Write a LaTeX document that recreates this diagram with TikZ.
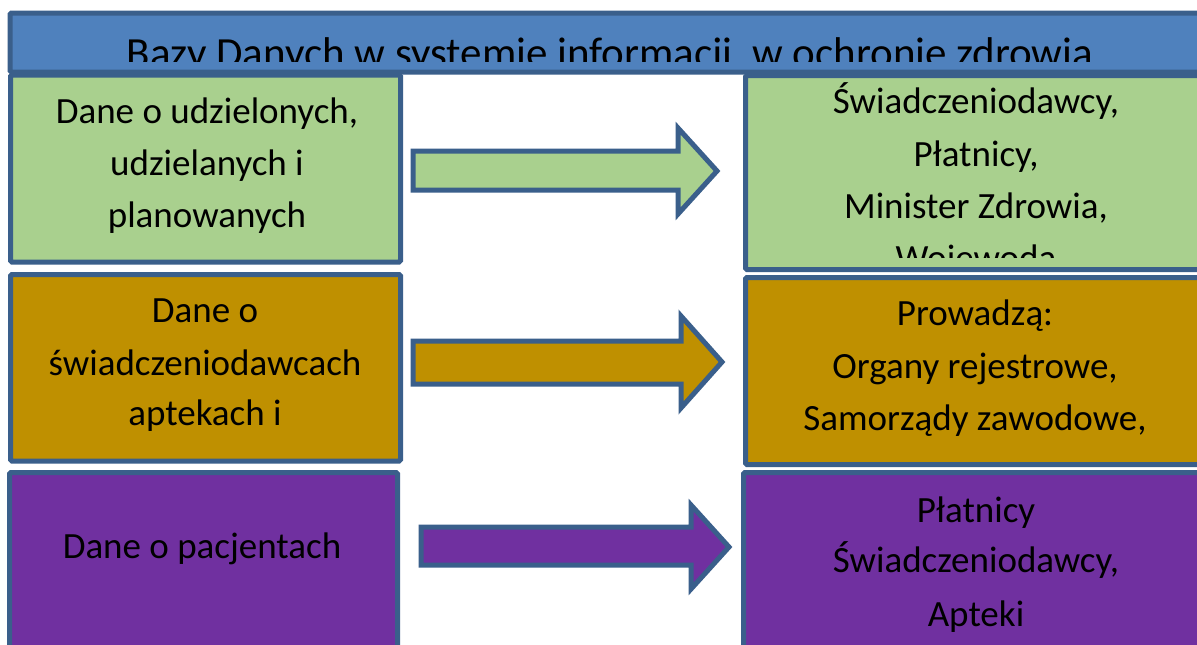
\documentclass[tikz,border=0pt]{standalone}
\usepackage{fontspec}
\setmainfont{Carlito}
\definecolor{bordc}{HTML}{3A5F8B}
\definecolor{titlec}{HTML}{4F81BD}
\definecolor{greenc}{HTML}{A9D08E}
\definecolor{goldc}{HTML}{BF9000}
\definecolor{purplec}{HTML}{7030A0}
\begin{document}
\begin{tikzpicture}[x=1pt,y=-1pt,
  panel/.style={draw=bordc, line width=5pt, rounded corners=1.5pt},
  blockarrow/.style={draw=bordc, line width=5pt, line join=miter},
  txt/.style={font=\fontsize{37}{44}\selectfont, anchor=base, inner sep=0pt, text=black},
  titletxt/.style={font=\fontsize{43}{50}\selectfont, anchor=base, inner sep=0pt, text=black}]
\useasboundingbox (0,0) rectangle (1197,645);
\fill[white] (0,0) rectangle (1197,645);
\clip (0,0) rectangle (1197,645);

% title bar
\draw[panel, fill=titlec] (10,13) rectangle (1215,72);
\begin{scope}
  \clip (0,0) rectangle (1197,61.5);
  \node[titletxt] (title) at (610,67) {Bazy Danych w systemie informacji\ \ w ochronie zdrowia};
\end{scope}

% left boxes
\draw[panel, fill=greenc] (10.5,75) rectangle (400.5,262);
\draw[panel, fill=goldc] (10.5,274.5) rectangle (400.5,461);
\draw[panel, fill=purplec] (9.5,472.5) rectangle (397.5,665);

% right boxes
\draw[panel, fill=greenc] (745.5,75.5) rectangle (1215,269.5);
\draw[panel, fill=goldc] (745.5,277.5) rectangle (1215,464.5);
\draw[panel, fill=purplec] (743.5,472.5) rectangle (1215,665);

% block arrows
\draw[blockarrow, fill=greenc] (413,151) -- (678,151) -- (678,128) -- (717,171) -- (678,214) -- (678,190) -- (413,190) -- cycle;
\draw[blockarrow, fill=goldc] (413,341) -- (681,341) -- (681,316) -- (722,362) -- (681,408) -- (681,384) -- (413,384) -- cycle;
\draw[blockarrow, fill=purplec] (421,527) -- (691,527) -- (691,505) -- (729,547) -- (691,589) -- (691,565) -- (421,565) -- cycle;

% left texts
\node[txt] (gl1) at (207,123) {Dane o udzielonych,};
\node[txt] (gl2) at (207,175) {udzielanych i};
\node[txt] (gl3) at (207,227) {planowanych};
\node[txt] (ol1) at (205,322) {Dane o};
\node[txt] (ol2) at (205,375) {świadczeniodawcach};
\node[txt] (ol3) at (205,425) {aptekach i};
\node[txt] (pl1) at (202,558) {Dane o pacjentach};

% right texts
\node[txt] (gr1) at (976,113) {Świadczeniodawcy,};
\node[txt] (gr2) at (976,166) {Płatnicy,};
\node[txt] (gr3) at (976,218) {Minister Zdrowia,};
\begin{scope}
  \clip (740,0) rectangle (1197,257);
  \node[txt] (gr4) at (976,270) {Wojewoda};
\end{scope}
\node[txt] (or1) at (975,325) {Prowadzą:};
\node[txt] (or2) at (975,378) {Organy rejestrowe,};
\node[txt] (or3) at (975,430) {Samorządy zawodowe,};
\node[txt] (pr1) at (976,522) {Płatnicy};
\node[txt] (pr2) at (976,572) {Świadczeniodawcy,};
\node[txt] (pr3) at (976,626) {Apteki};
\end{tikzpicture}
\end{document}
